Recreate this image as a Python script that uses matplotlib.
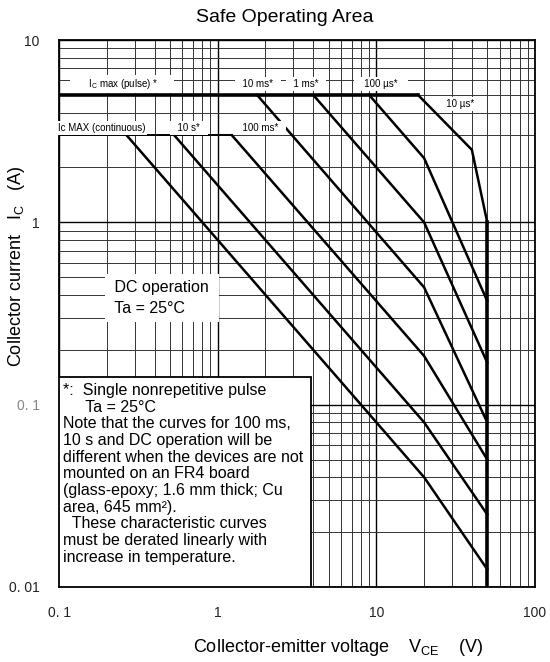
import matplotlib

matplotlib.use("Agg")
import matplotlib.pyplot as plt
from matplotlib.patches import Rectangle
from matplotlib.ticker import FixedLocator, FixedFormatter, LogLocator, NullFormatter

plt.rcParams["font.family"] = ["Liberation Sans", "DejaVu Sans"]
plt.rcParams["mathtext.fontset"] = "custom"
plt.rcParams["mathtext.rm"] = "Liberation Sans"
plt.rcParams["mathtext.default"] = "regular"

# SOA curves: (VCE [V], IC [A]) vertices
t10us_v = [18.3, 40, 50]
t10us_i = [5.0, 2.5, 1.0]
t100us_v = [9.0, 20, 50]
t100us_i = [5.0, 2.25, 0.37]
t1ms_v = [4.0, 20, 50]
t1ms_i = [5.0, 1.0, 0.17]
t10ms_v = [1.77, 20, 50]
t10ms_i = [5.0, 0.44, 0.08]
t100ms_v = [1.23, 20, 50]
t100ms_i = [3.0, 0.185, 0.05]
t10s_v = [0.533, 20, 50]
t10s_i = [3.0, 0.08, 0.025]
dc_v = [0.267, 20, 50]
dc_i = [3.0, 0.04, 0.0125]

ic_pulse = 5.0
ic_cont = 3.0
vceo = 50.0

x_ticks = [0.1, 1, 10, 100]
x_labels = ["0. 1", "1", "10", "100"]
y_ticks = [0.01, 0.1, 1, 10]
y_labels = ["0. 01", "0. 1", "1", "10"]

fig = plt.figure(figsize=(5.5, 6.62), dpi=100)
ax = fig.add_axes([59 / 550, 1 - 587 / 662, 476 / 550, 547 / 662])
ax.set_xscale("log")
ax.set_yscale("log")
ax.set_xlim(0.1, 100)
ax.set_ylim(0.01, 10)

ax.xaxis.set_major_locator(FixedLocator(x_ticks))
ax.xaxis.set_major_formatter(FixedFormatter(x_labels))
ax.yaxis.set_major_locator(FixedLocator(y_ticks))
ax.yaxis.set_major_formatter(FixedFormatter(y_labels))
ax.xaxis.set_minor_locator(LogLocator(base=10, subs=range(2, 10)))
ax.yaxis.set_minor_locator(LogLocator(base=10, subs=range(2, 10)))
ax.xaxis.set_minor_formatter(NullFormatter())
ax.yaxis.set_minor_formatter(NullFormatter())
ax.tick_params(which="both", length=0, labelsize=10, colors="#222222")
ax.tick_params(axis="x", pad=14)
ax.tick_params(axis="y", pad=14)
ax.get_yticklabels()[1].set_color("#888888")
ax.grid(True, which="major", color="black", linewidth=1.0)
ax.grid(True, which="minor", color="#333333", linewidth=0.7)
ax.set_axisbelow(True)
for s in ax.spines.values():
    s.set_linewidth(1.3)

lw = 1.8
# pulse and continuous current limits
ax.plot([0.1, t10us_v[0]], [ic_pulse, ic_pulse], color="black", lw=2.6, zorder=4)
ax.plot([0.1, t100ms_v[0]], [ic_cont, ic_cont], color="black", lw=1.4, zorder=4)
for v, i in [(t10us_v, t10us_i), (t100us_v, t100us_i), (t1ms_v, t1ms_i),
             (t10ms_v, t10ms_i), (t100ms_v, t100ms_i), (t10s_v, t10s_i), (dc_v, dc_i)]:
    ax.plot(v, i, color="black", lw=lw, zorder=4, solid_joinstyle="miter")
ax.plot([vceo, vceo], [0.01, t10us_i[-1]], color="black", lw=2.6, zorder=4)

box = dict(facecolor="white", edgecolor="none", pad=1.5)
small = 7
ax.text(0.249, 5.73, "      I$_C$ max (pulse) *      ", fontsize=small, ha="center",
        va="center", bbox=box, zorder=5)
ax.text(1.79, 5.73, "  10 ms*  ", fontsize=small, ha="center", va="center", bbox=box, zorder=5)
ax.text(3.6, 5.73, "  1 ms*  ", fontsize=small, ha="center", va="center", bbox=box, zorder=5)
ax.text(10.7, 5.73, "   100 \u00b5s*   ", fontsize=small, ha="center", va="center", bbox=box, zorder=5)
ax.text(33.6, 4.45, "   10 \u00b5s*   ", fontsize=small, ha="center", va="center", bbox=box, zorder=5)
ax.text(0.185, 3.3, "Ic MAX (continuous)", fontsize=small, ha="center", va="center",
        bbox=box, zorder=6, clip_on=False)
ax.text(0.66, 3.3, "  10 s*  ", fontsize=small, ha="center", va="center", bbox=box, zorder=5)
ax.text(1.85, 3.3, "  100 ms*  ", fontsize=small, ha="center", va="center", bbox=box, zorder=5)

ax.text(0.21, 0.385, " DC operation \n Ta = 25\u00b0C", fontsize=11.5, ha="left", va="center",
        linespacing=1.5, bbox=dict(facecolor="white", edgecolor="none", pad=4), zorder=5)

ax.add_patch(Rectangle((0, 0), 252 / 476, 210 / 547, transform=ax.transAxes,
                       facecolor="white", edgecolor="black", lw=1.3, zorder=5))
note = ("*:  Single nonrepetitive pulse\n"
        "     Ta = 25\u00b0C\n"
        "Note that the curves for 100 ms,\n"
        "10 s and DC operation will be\n"
        "different when the devices are not\n"
        "mounted on an FR4 board\n"
        "(glass-epoxy; 1.6 mm thick; Cu\n"
        "area, 645 mm\u00b2).\n"
        "  These characteristic curves\n"
        "must be derated linearly with\n"
        "increase in temperature.")
ax.text(4 / 476, 204 / 547, note, transform=ax.transAxes, fontsize=11.5, ha="left", va="top",
        linespacing=1.14, zorder=6)

fig.text(285 / 550, 1 - 17 / 662, "Safe Operating Area", fontsize=14, ha="center", va="center")
fig.text(17 / 550, 1 - 266 / 662, "Collector current   I$_C$   (A)", fontsize=13,
         rotation=90, ha="center", va="center")
fig.text(338 / 550, 1 - 648 / 662, "Collector-emitter voltage    V$_{CE}$    (V)", fontsize=13,
         ha="center", va="center")

fig.savefig("out.png", dpi=100)
plt.close(fig)
